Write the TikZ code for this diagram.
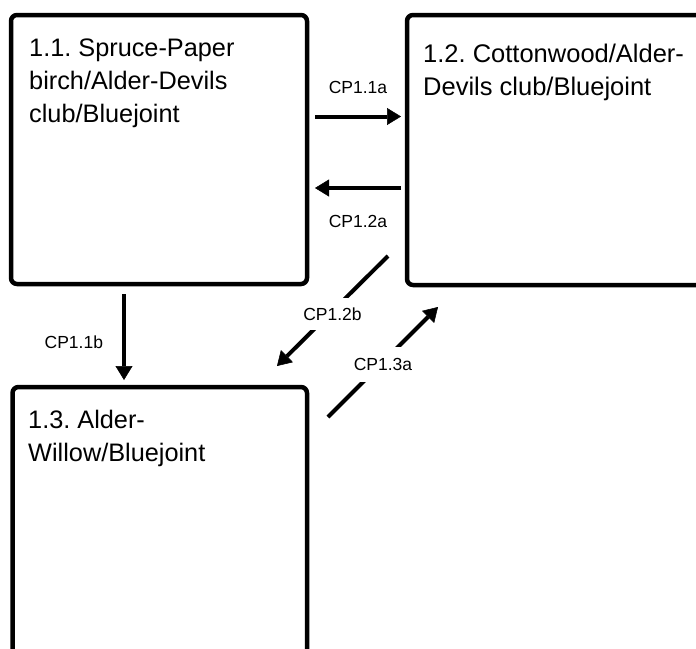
\documentclass[tikz,border=0pt]{standalone}
\usepackage{fontspec}
\setmainfont{Liberation Sans}
\frenchspacing
\usetikzlibrary{arrows.meta}

\tikzset{
  box/.style={draw, line width=4.5pt, rounded corners=6pt, inner sep=0pt},
  title/.style={anchor=north west, inner sep=0pt, align=left, font=\fontsize{25.3}{33}\selectfont},
  arr/.style={line width=4pt, -{Triangle[length=14pt, width=17pt, line width=0.5pt]}},
  lab/.style={font=\fontsize{17.5}{20}\selectfont, inner sep=0pt},
  cut/.style={lab, fill=white, inner xsep=2pt, inner ysep=10pt},
}

\begin{document}
\begin{tikzpicture}[x=1pt, y=-1pt]
            \useasboundingbox (0,0) rectangle (696,648);
            % the three community boxes
            \node[box, minimum width=296pt, minimum height=269pt] (b11) at (159,149.5) {};
            \node[box, minimum width=323pt, minimum height=270pt] (b12) at (568.5,150) {};
            \node[box, minimum width=294.5pt, minimum height=333pt] (b13) at (159.75,553.5) {};
            \node[title] (t11) at (29,39) {1.1. Spruce-Paper\\birch/Alder-Devils\\club/Bluejoint};
            \node[title, font=\fontsize{25.5}{33}\selectfont] (t12) at (423,43.5) {1.2. Cottonwood/Alder-\\Devils club/Bluejoint};
            \node[title] (t13) at (28,410) {1.3. Alder-\\Willow/Bluejoint};
            % arrow ends
            \coordinate (p11a) at (315,116.5);
            \coordinate (q11a) at (401,116.5);
            \coordinate (p12a) at (401,188);
            \coordinate (q12a) at (315,188);
            \coordinate (p11b) at (124,294);
            \coordinate (q11b) at (124,380);
            \coordinate (p12b) at (388,256);
            \coordinate (q12b) at (277,366);
            \coordinate (p13a) at (328,417);
            \coordinate (q13a) at (438,307);
            % pathways
            \draw[arr] (p11a) -- (q11a) node[lab, midway, above=20.5pt] (l11a) {CP1.1a};
            \draw[arr] (p12a) -- (q12a) node[lab, midway, below=25pt] (l12a) {CP1.2a};
            \draw[arr] (p11b) -- (q11b) node[lab, pos=0.56, left=19pt] (l11b) {CP1.1b};
            \draw[arr] (p12b) -- (q12b) node[cut, midway, yshift=-3pt] (l12b) {CP1.2b};
            \draw[arr] (p13a) -- (q13a) node[cut, midway, yshift=-2.5pt, inner ysep=11pt] (l13a) {CP1.3a};
        \end{tikzpicture}
\end{document}
